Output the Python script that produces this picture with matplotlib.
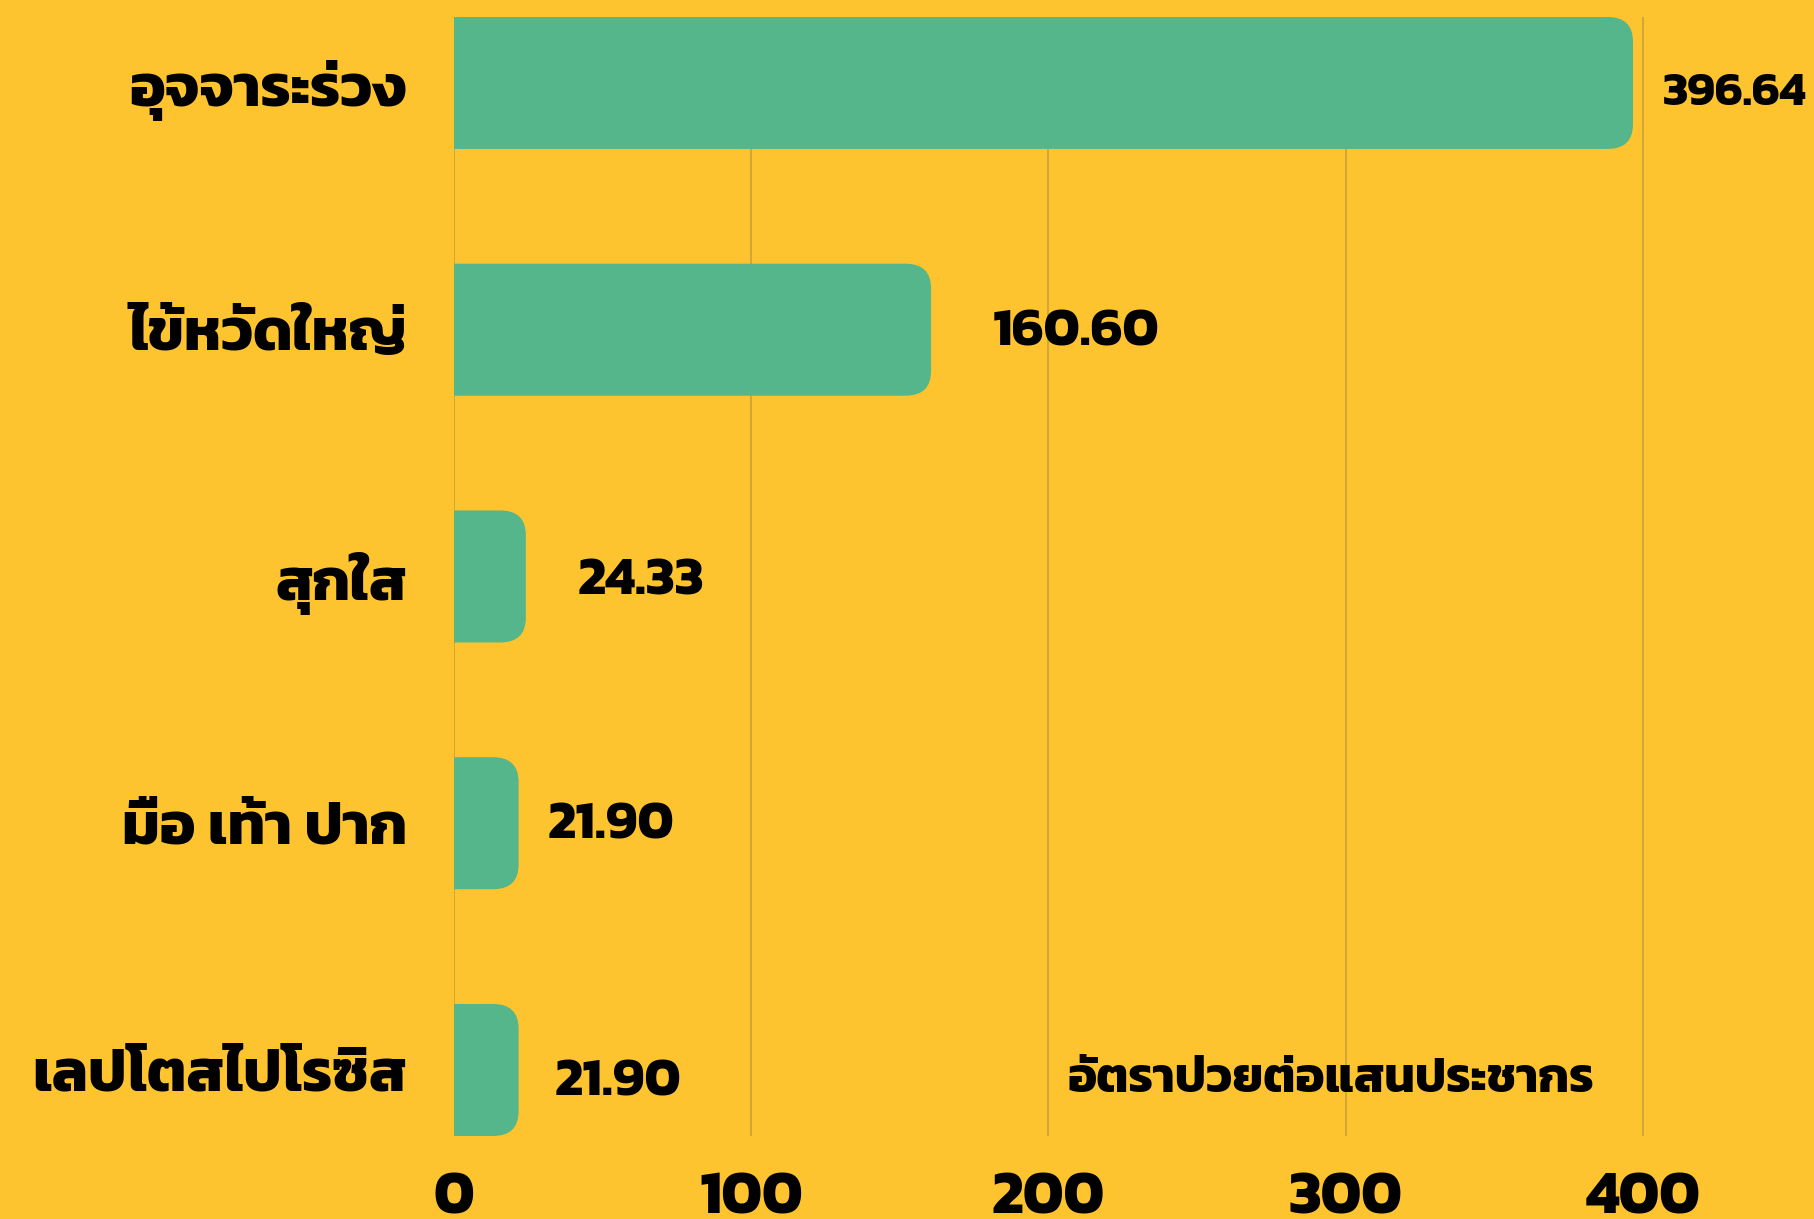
import matplotlib
matplotlib.use('Agg')
from matplotlib import pyplot as plt
from matplotlib.patches import FancyBboxPatch

diseases = ['อุจจาระร่วง', 'ไข้หวัดใหญ่', 'สุกใส', 'มือ เท้า ปาก', 'เลปโตสไปโรซิส']
rates = [396.64, 160.60, 24.33, 21.90, 21.90]
value_labels = ['396.64', '160.60', '24.33', '21.90', '21.90']
ticks = [0, 100, 200, 300, 400]
unit_text = 'อัตราป่วยต่อแสนประชากร'

# hand placed labels: nudge in pixels (right, down) and font size
label_nudge = [(30, 11), (62, 4), (52, 6), (29, 3), (36, 13)]
label_size = [34, 39, 39, 39, 39]

bg = '#fec430'
bar_color = '#55b58b'
grid_color = '#c9a23a'
thai = ['Kanit', 'DejaVu Sans']

plt.rcParams['font.family'] = thai

fig = plt.figure(figsize=(18.14, 12.19), dpi=100, facecolor=bg)
ax = fig.add_axes([0.25, 0.0681, 0.75, 0.918])
ax.set_facecolor(bg)

xmax = 457.5
ax.set_xlim(0, xmax)
ax.set_ylim(len(rates) - 1 + 0.2675, -0.2675)

for t in ticks:
    ax.axvline(t, color=grid_color, lw=1.2, zorder=1)

h = 0.535
r = 8.6          # corner radius along x, data units
aspect = 0.0117  # y units per x unit at equal pixels
for i, v in enumerate(rates):
    # start left of zero so only the right corners show, the axes clip the rest
    box = FancyBboxPatch((-30, i - h / 2), v + 30, h,
                         boxstyle='round,pad=0,rounding_size=%f' % r,
                         mutation_aspect=aspect, fc=bar_color, ec='none',
                         zorder=2)
    ax.add_patch(box)
    dx, dy = label_nudge[i]
    ax.annotate(value_labels[i], (v, i), xytext=(dx * 0.72, -dy * 0.72),
                textcoords='offset points', ha='left', va='center',
                fontsize=label_size[i], fontweight='bold', zorder=3)

ax.set_yticks(range(len(diseases)))
ax.set_yticklabels(diseases, fontsize=43, fontweight='bold')
ax.set_xticks(ticks)
ax.set_xticklabels([str(t) for t in ticks], fontsize=44, fontweight='bold')
ax.tick_params(axis='y', length=0, pad=33.5)
ax.tick_params(axis='x', length=0, pad=26)
for s in ax.spines.values():
    s.set_visible(False)

ax.text(295, 4.04, unit_text, ha='center', va='center', fontsize=35,
        fontweight='bold', zorder=3)

fig.savefig('out.png', facecolor=bg)
